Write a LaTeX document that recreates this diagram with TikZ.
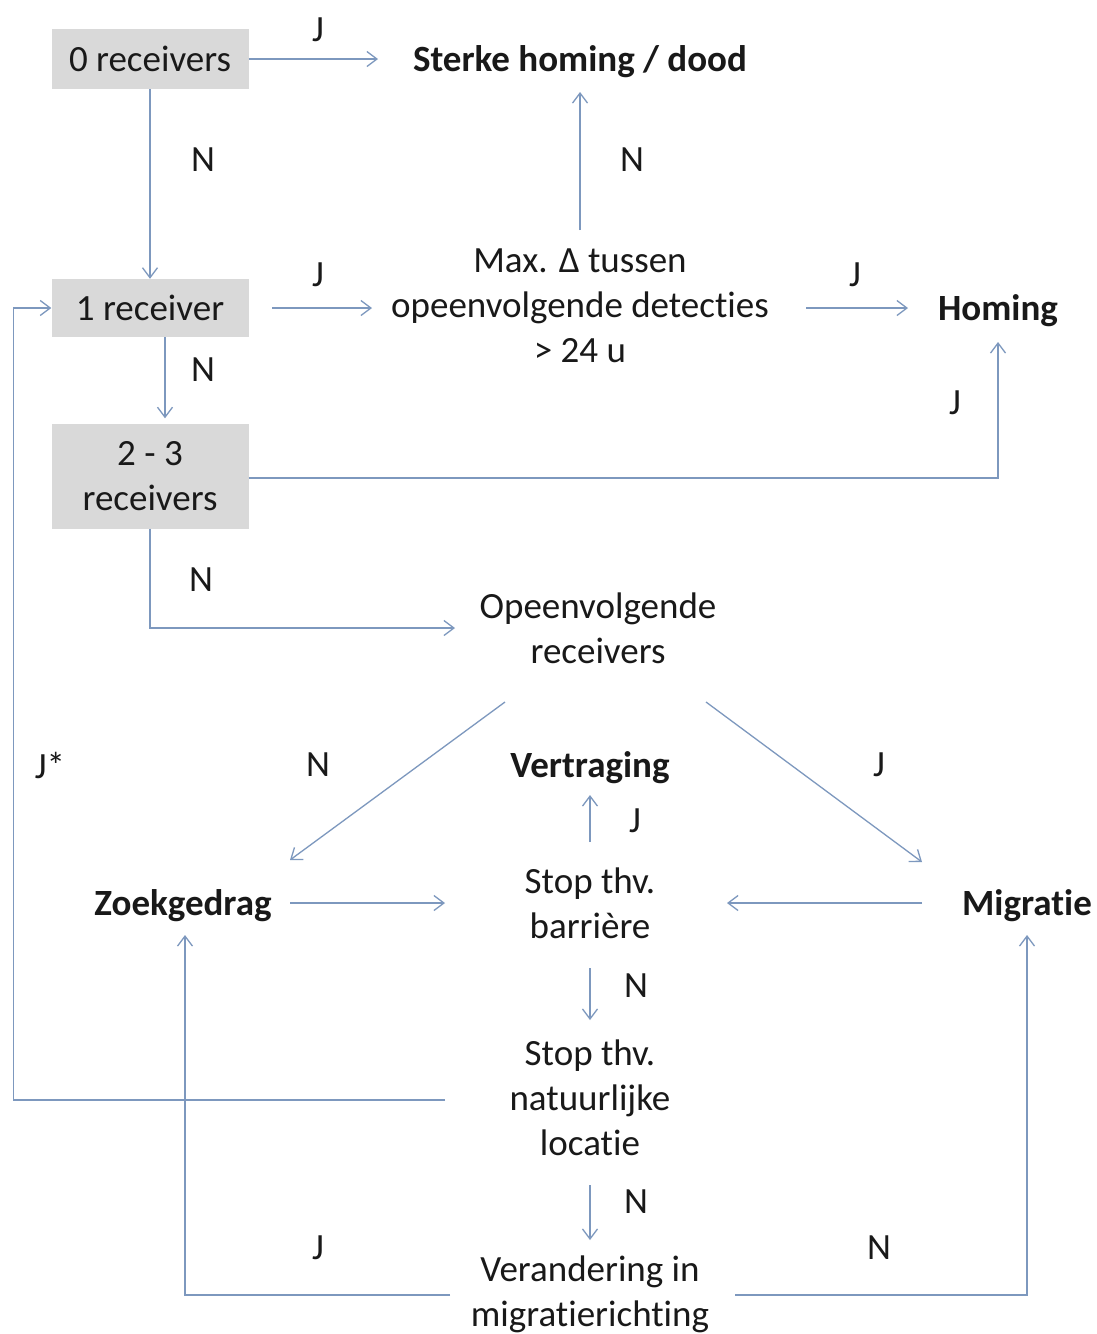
\documentclass[tikz,border=0pt]{standalone}
\usepackage{fontspec}
\setmainfont{Carlito}[Ligatures=NoCommon]
\usetikzlibrary{arrows.meta}
\definecolor{ln}{RGB}{125,152,190}
\definecolor{bx}{RGB}{217,217,217}
\definecolor{tx}{RGB}{25,25,25}
\begin{document}
\begin{tikzpicture}[x=1pt,y=-1pt,
  font=\fontsize{37}{45}\selectfont,
  box/.style={fill=bx, minimum width=197pt, inner sep=0pt, align=center, text=tx},
  txt/.style={inner sep=0pt, align=center, text=tx},
  bold/.style={txt, font=\fontsize{37}{45}\selectfont\bfseries},
  lab/.style={inner sep=0pt, text=tx},
  conn/.style={draw=ln, line width=1.3pt, -{Straight Barb[length=10pt,width=15pt,line width=1.3pt]}}]
\useasboundingbox[fill=white] (0,0) rectangle (1096,1334);

% nodes
\node[box, minimum height=60pt] (zero) at (150,59) {0 receivers};
\node[bold] (sterke) at (580,62) {Sterke homing / dood};
\node[box, minimum height=58pt] (one) at (150,308) {1 receiver};
\node[txt] (maxd) at (580,306) {Max. Δ tussen\\opeenvolgende detecties\\> 24 u};
\node[bold] (homing) at (998,311) {Homing};
\node[box, minimum height=105pt] (two) at (150,476) {2 - 3\\receivers};
\node[txt] (opeen) at (598,628) {Opeenvolgende\\receivers};
\node[bold] (vertr) at (590,768) {Vertraging};
\node[bold] (zoek) at (183,906) {Zoekgedrag};
\node[txt] (stopb) at (590,903) {Stop thv.\\barrière};
\node[bold] (migr) at (1027,906) {Migratie};
\node[txt] (stopn) at (590,1098) {Stop thv.\\natuurlijke\\locatie};
\node[txt] (veran) at (590,1294) {Verandering in\\migratierichting};

% labels
\node[lab] (l1) at (318,30) {J};
\node[lab] (l2) at (203,160) {N};
\node[lab] (l3) at (318,275) {J};
\node[lab] (l4) at (632,160) {N};
\node[lab] (l5) at (855,275) {J};
\node[lab] (l6) at (203,370) {N};
\node[lab] (l7) at (955,403) {J};
\node[lab] (l8) at (201,580) {N};
\node[lab] (l9) at (318,765) {N};
\node[lab] (l10) at (879,765) {J};
\node[lab] (l11) at (635,821) {J};
\node[lab] (l12) at (50,765) {J*};
\node[lab] (l13) at (636,986) {N};
\node[lab] (l14) at (636,1202) {N};
\node[lab] (l15) at (318,1248) {J};
\node[lab] (l16) at (879,1248) {N};

% connectors
\draw[conn] (zero.east) -- ([shift={(-202,-3)}]sterke.center);
\draw[conn] (zero.south) -- (one.north);
\draw[conn] ([shift={(122,0)}]one.center) -- ([shift={(-208,2)}]maxd.center);
\draw[conn] ([shift={(0,-76)}]maxd.center) -- ([shift={(0,30)}]sterke.center);
\draw[conn] ([shift={(226,2)}]maxd.center) -- ([shift={(-90,-3)}]homing.center);
\draw[conn] ([shift={(15,0)}]one.south) -- ([shift={(15,-5)}]two.north);
\draw[conn] ([shift={(0,2)}]two.east) -| ([shift={(0,31)}]homing.center);
\draw[conn] (two.south) |- ([shift={(-143,0)}]opeen.center);
\draw[conn] ([shift={(-93,74)}]opeen.center) -- ([shift={(107,-46)}]zoek.center);
\draw[conn] ([shift={(108,74)}]opeen.center) -- ([shift={(-105,-44)}]migr.center);
\draw[conn] ([shift={(0,-61)}]stopb.center) -- ([shift={(0,27)}]vertr.center);
\draw[conn] ([shift={(107,-3)}]zoek.center) -- ([shift={(-145,0)}]stopb.center);
\draw[conn] ([shift={(-105,-3)}]migr.center) -- ([shift={(137,0)}]stopb.center);
\draw[conn] ([shift={(0,65)}]stopb.center) -- ([shift={(0,-78)}]stopn.center);
\draw[conn] ([shift={(-145,2)}]stopn.center) -| ([shift={(-38,0)}]one.west) -- (one.west);
\draw[conn] ([shift={(0,87)}]stopn.center) -- ([shift={(0,-54)}]veran.center);
\draw[conn] ([shift={(-140,1)}]veran.center) -| ([shift={(2,29)}]zoek.center);
\draw[conn] ([shift={(145,1)}]veran.center) -| ([shift={(0,29)}]migr.center);
\end{tikzpicture}
\end{document}
